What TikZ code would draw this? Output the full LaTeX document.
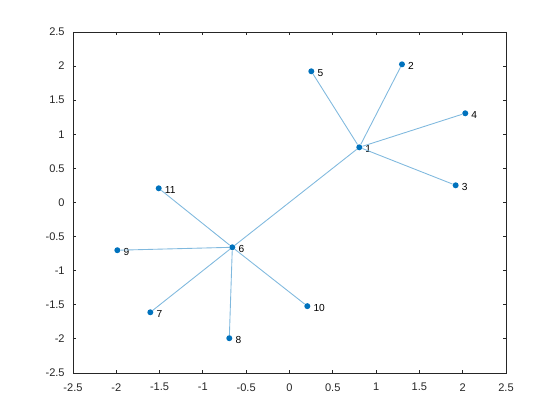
\documentclass[tikz,border=0pt]{standalone}
\usepackage{fontspec}
\setmainfont{Liberation Sans}
\usepackage{tikz}
\usepackage{xcolor}
\definecolor{mblue}{RGB}{0,114,189}
\definecolor{medge}{RGB}{128,185,222}
\definecolor{maxis}{RGB}{38,38,38}

\begin{document}
\begin{tikzpicture}[x=1.732cm,y=1.364cm,
font=\fontsize{5.8pt}{6.8pt}\selectfont,
dot/.style={circle,fill=mblue,inner sep=0pt,minimum size=0.12cm},
lbl/.style={inner sep=0pt,label distance=0.05cm,yshift=-0.04cm,text=black},
edge/.style={draw=medge,line width=0.5pt},
ticklbl/.style={inner sep=0pt,text=maxis,font=\fontsize{6.3pt}{7.5pt}\selectfont}]
\useasboundingbox (-3.343,-3.189) rectangle (3.124,2.969);
% axes box and ticks
\draw[maxis,line width=0.5pt] (-2.5,-2.5) rectangle (2.5,2.5);
\foreach \t in {-2.5,-2,...,2.5} {
  \draw[maxis,line width=0.5pt] (\t,-2.5) -- ++(0,0.05) (\t,2.5) -- ++(0,-0.05);
  \draw[maxis,line width=0.5pt] (-2.5,\t) -- ++(0.04,0) (2.5,\t) -- ++(-0.04,0);
  \node[ticklbl,anchor=north,yshift=-0.2cm] at (\t,-2.5) {\t};
  \node[ticklbl,anchor=east,xshift=-0.16cm] at (-2.5,\t) {\t};
}
% graph nodes
\node (n1) [dot,label={[lbl]0:1}] at (0.806,0.809) {};
\node (n2) [dot,label={[lbl]0:2}] at (1.299,2.026) {};
\node (n3) [dot,label={[lbl]0:3}] at (1.919,0.252) {};
\node (n4) [dot,label={[lbl]0:4}] at (2.030,1.308) {};
\node (n5) [dot,label={[lbl]0:5}] at (0.252,1.924) {};
\node (n6) [dot,label={[lbl]0:6}] at (-0.660,-0.657) {};
\node (n7) [dot,label={[lbl]0:7}] at (-1.607,-1.610) {};
\node (n8) [dot,label={[lbl]0:8}] at (-0.695,-1.990) {};
\node (n9) [dot,label={[lbl]0:9}] at (-1.988,-0.700) {};
\node (n10) [dot,label={[lbl]0:10}] at (0.206,-1.520) {};
\node (n11) [dot,label={[lbl]0:11}] at (-1.510,0.208) {};
% edges
\foreach \a/\b in {1/2,1/3,1/4,1/5,1/6,6/7,6/8,6/9,6/10,6/11}
  \draw[edge] (n\a) -- (n\b);
\end{tikzpicture}
\end{document}
